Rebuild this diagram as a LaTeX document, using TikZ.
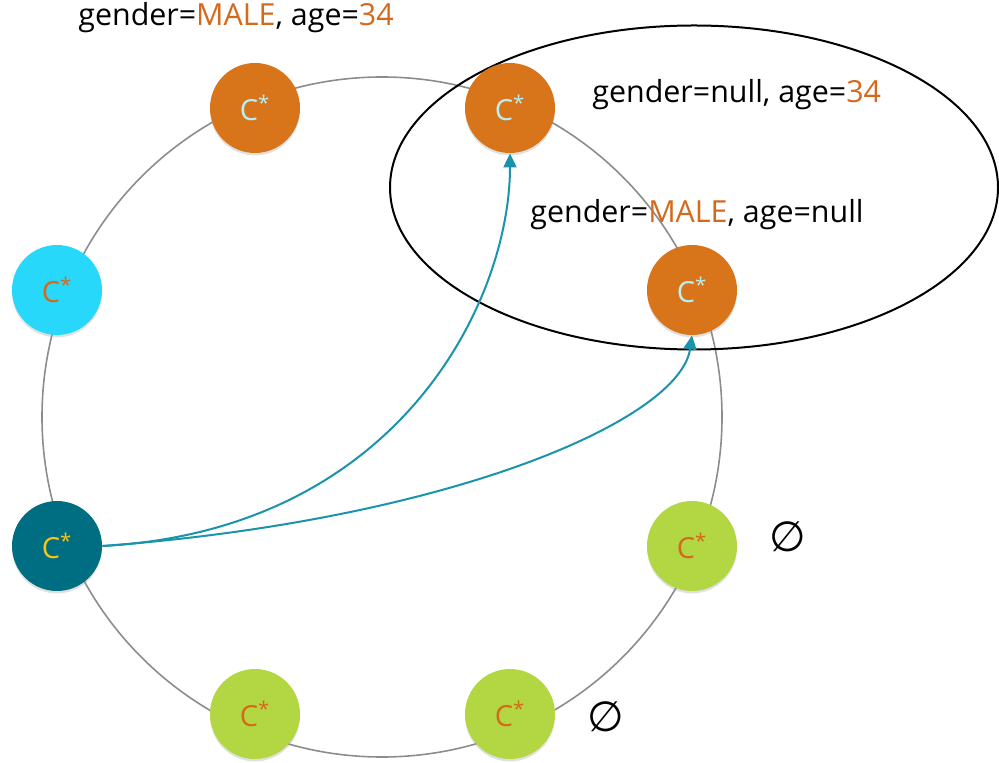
\documentclass[tikz,border=0pt]{standalone}
\usepackage{fontspec}
\setmainfont{Open Sans}
\newfontfamily\symfont{DejaVu Sans}
\usetikzlibrary{arrows.meta,shadows}
\definecolor{rust}{HTML}{D5691B}
\definecolor{peerorange}{HTML}{D87419}
\definecolor{peercyan}{HTML}{27D8FA}
\definecolor{peerteal}{HTML}{006E82}
\definecolor{peergreen}{HTML}{B3D743}
\definecolor{linkteal}{HTML}{1A93AC}
\definecolor{icecyan}{HTML}{B8F0F8}
\definecolor{gold}{HTML}{F5C518}
\newcommand{\hl}[1]{\textcolor{rust}{#1}}
\newcommand{\cstar}{C\textsuperscript{*}}

\begin{document}
\begin{tikzpicture}[x=0.5pt,y=-0.5pt,>={Triangle[length=7pt,width=6.5pt]},
  peer/.style={circle,minimum size=45pt,inner sep=0pt,font=\fontsize{14.5}{16}\selectfont,
    drop shadow={shadow xshift=0pt,shadow yshift=-1.2pt,fill=black!40,opacity=.3}},
  hot/.style={peer,fill=peerorange,text=icecyan},
  cool/.style={peer,fill=peercyan,text=rust},
  hub/.style={peer,fill=peerteal,text=gold},
  idle/.style={peer,fill=peergreen,text=rust},
  lab/.style={font=\fontsize{15.2}{18}\selectfont,inner sep=0pt},
  none/.style={font=\symfont\fontsize{21}{24}\selectfont,inner sep=0pt},
  link/.style={->,linkteal,line width=1pt}]
\useasboundingbox (0,0) rectangle (999,763);
% ring and query region
\draw[black!45,line width=0.8pt] (382,417) circle[radius=340];
\draw[black,line width=1pt] (694,187.5) ellipse[x radius=304,y radius=162];
% peers on the ring
\node[hot] (nTL) at (255,108) {\cstar};
\node[hot] (nTR) at (510,108) {\cstar};
\node[cool] (nL) at (57,290) {\cstar};
\node[hot] (nR) at (692,290) {\cstar};
\node[hub] (nHub) at (57,546) {\cstar};
\node[idle] (nRB) at (692,546) {\cstar};
\node[idle] (nBL) at (255,714) {\cstar};
\node[idle] (nBR) at (510,714) {\cstar};
% stored keys
\node[lab,anchor=west] (kTop) at (78,18) {gender=\hl{MALE}, age=\hl{34}};
\node[lab,anchor=west] (kTR) at (592,95) {gender=null, age=\hl{34}};
\node[lab,anchor=west] (kR) at (530,215) {gender=\hl{MALE}, age=null};
\node[none] (eRB) at (788,537) {∅};
\node[none] (eBR) at (606,717) {∅};
% lookups from the hub
\draw[link] (nHub.east) .. controls (400,530) and (510,300) .. (nTR.south);
\draw[link] (nHub.east) .. controls (450,520) and (680,420) .. (nR.south);
\end{tikzpicture}
\end{document}
